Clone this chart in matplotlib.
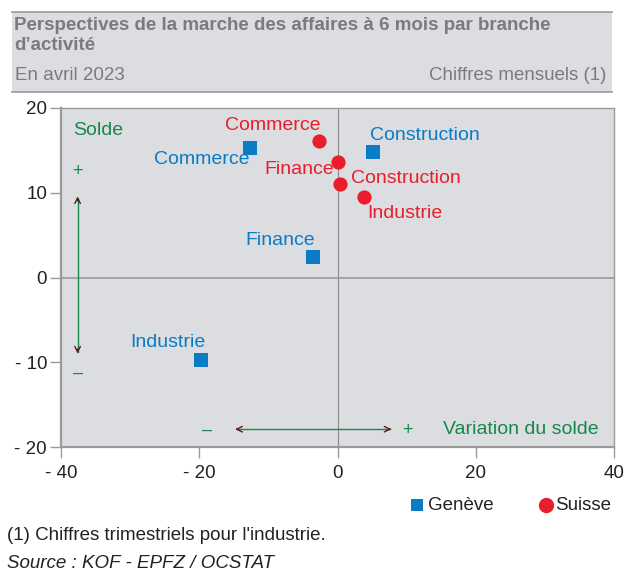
import matplotlib.pyplot as plt
from matplotlib.patches import Rectangle
from matplotlib.lines import Line2D

plt.rcParams['font.family'] = ['Liberation Sans', 'DejaVu Sans']

# branch positions: x = variation du solde, y = solde
branches = ['Commerce', 'Construction', 'Finance', 'Industrie']
geneve_x = [-12.6, 5.1, -3.6, -19.7]
geneve_y = [15.3, 14.8, 2.4, -9.7]
suisse_x = [-2.7, 0.1, 0.4, 3.9]
suisse_y = [16.1, 13.6, 11.0, 9.5]
# Suisse order: Commerce, Finance, Construction, Industrie
suisse_names = ['Commerce', 'Finance', 'Construction', 'Industrie']

x_ticks = [-40, -20, 0, 20, 40]
y_ticks = [-20, -10, 0, 10, 20]
x_labels = ['- 40', '- 20', '0', '20', '40']
y_labels = ['- 20', '- 10', '0', '10', '20']

BLUE = '#0a7bc5'
RED = '#ea1d2c'
GREEN = '#16884a'
BG = '#dcdde0'
GREY_TXT = '#7b7b7b'
LINE = '#9a9a9a'

W, H = 625, 572
fig = plt.figure(figsize=(W / 100, H / 100), dpi=100)


def fx(px):
    return px / W


def fy(py):
    return 1 - py / H


# header band
fig.patches.append(Rectangle((fx(12), fy(92)), fx(600), 80 / H, transform=fig.transFigure,
                             facecolor=BG, edgecolor='none', zorder=0))
for yy in (12, 92):
    fig.lines.append(Line2D([fx(12), fx(612)], [fy(yy), fy(yy)], transform=fig.transFigure,
                            color=LINE, lw=1.2))
fig.text(fx(14), fy(26), 'Perspectives de la marche des affaires à 6 mois par branche',
         fontsize=13.5, fontweight='bold', color=GREY_TXT, va='center')
fig.text(fx(14), fy(46), 'd\u2019activité', fontsize=13.5, fontweight='bold',
         color=GREY_TXT, va='center')
fig.text(fx(15), fy(75), 'En avril 2023', fontsize=13.5, color=GREY_TXT, va='center')
fig.text(fx(606), fy(75), 'Chiffres mensuels (1)', fontsize=13.5, color=GREY_TXT,
         va='center', ha='right')

ax = fig.add_axes([fx(61), fy(447), fx(614) - fx(61), (447 - 108) / H])
ax.set_facecolor(BG)
ax.set_xlim(-40, 40)
ax.set_ylim(-20, 20)
ax.axhline(0, color=LINE, lw=1.2, zorder=1)
ax.axvline(0, color='#8a8a8a', lw=0.8, zorder=1)

for side in ('top', 'right'):
    ax.spines[side].set_color(LINE)
    ax.spines[side].set_linewidth(1.0)
for side in ('left', 'bottom'):
    ax.spines[side].set_color(LINE)
    ax.spines[side].set_linewidth(1.6)

ax.set_xticks(x_ticks)
ax.set_xticklabels(x_labels)
ax.set_yticks(y_ticks)
ax.set_yticklabels(y_labels)
ax.tick_params(axis='both', labelsize=13.5, colors=LINE, labelcolor='#222222',
               length=8, width=1.0)
ax.tick_params(axis='x', pad=5)
ax.tick_params(axis='y', pad=2)

ax.scatter(geneve_x, geneve_y, marker='s', s=90, color=BLUE, zorder=3, linewidths=0)
ax.scatter(suisse_x, suisse_y, marker='o', s=105, color=RED, zorder=3, linewidths=0)

fs = 14
# Genève labels
g_off = {'Commerce': (-0.2, -1.4, 'right'), 'Construction': (-0.4, 2.0, 'left'),
         'Finance': (0.3, 2.0, 'right'), 'Industrie': (0.6, 2.0, 'right')}
for name, x, y in zip(branches, geneve_x, geneve_y):
    dx, dy, ha = g_off[name]
    ax.text(x + dx, y + dy, name, color=BLUE, fontsize=fs, ha=ha, va='center', zorder=2)

s_off = {'Commerce': (0.3, 1.8, 'right'), 'Finance': (-0.6, -0.9, 'right'),
         'Construction': (1.5, 0.7, 'left'), 'Industrie': (0.4, -2.0, 'left')}
for name, x, y in zip(suisse_names, suisse_x, suisse_y):
    dx, dy, ha = s_off[name]
    ax.text(x + dx, y + dy, name, color=RED, fontsize=fs, ha=ha, va='center')

# axis meaning annotations
ax.text(-38.2, 17.4, 'Solde', color=GREEN, fontsize=fs, va='center')
ax.text(-37.6, 12.5, '+', color=GREEN, fontsize=13, ha='center', va='center')
ax.text(-37.6, -11.3, '\u2013', color=GREEN, fontsize=13, ha='center', va='center')
ax.plot([-37.6, -37.6], [9.3, -8.8], color=GREEN, lw=1.0, zorder=2)
for yy, dy in ((9.9, -1), (-9.3, 1)):
    ax.annotate('', xy=(-37.6, yy), xytext=(-37.6, yy + dy * 1.2),
                arrowprops=dict(arrowstyle='->', color='#5a1f1f', lw=1.0))

ax.plot([-14.6, 7.6], [-17.9, -17.9], color=GREEN, lw=1.0, zorder=2)
for xx, dx in ((-15.2, 1), (8.2, -1)):
    ax.annotate('', xy=(xx, -17.9), xytext=(xx + dx * 1.2, -17.9),
                arrowprops=dict(arrowstyle='->', color='#5a1f1f', lw=1.0))
ax.text(-18.8, -18.0, '\u2013', color=GREEN, fontsize=13, ha='center', va='center')
ax.text(10.1, -18.0, '+', color=GREEN, fontsize=13, ha='center', va='center')
ax.text(37.8, -17.9, 'Variation du solde', color=GREEN, fontsize=fs, ha='right', va='center')

# legend
fig.patches.append(Rectangle((fx(411), fy(511)), 12 / W, 12 / H, transform=fig.transFigure,
                             facecolor=BLUE, edgecolor='none'))
fig.text(fx(428), fy(505), 'Genève', fontsize=13.5, color='#222222', va='center')
circ = Line2D([fx(546)], [fy(505)], transform=fig.transFigure, marker='o', markersize=10,
              color=RED, linestyle='none')
fig.lines.append(circ)
fig.text(fx(555), fy(505), 'Suisse', fontsize=13.5, color='#222222', va='center')

fig.text(fx(7), fy(535), "(1) Chiffres trimestriels pour l'industrie.", fontsize=13.5,
         color='#222222', va='center')
fig.text(fx(7), fy(563), 'Source : KOF - EPFZ / OCSTAT', fontsize=13.5, style='italic',
         color='#222222', va='center')

fig.savefig('out.png', dpi=100)
